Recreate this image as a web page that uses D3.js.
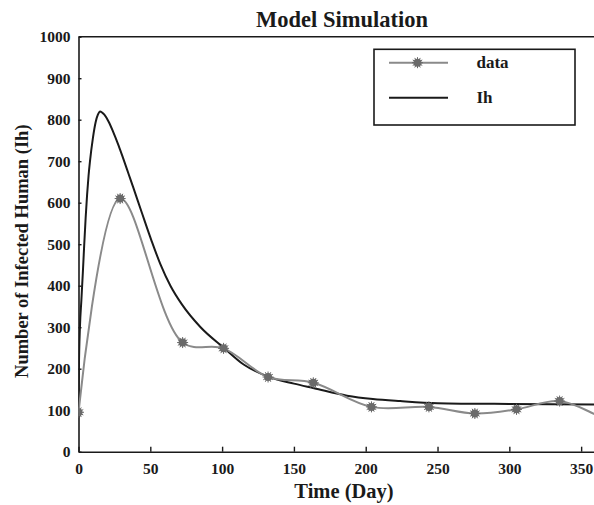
<!DOCTYPE html>
<html><head><meta charset="utf-8">
<script src="https://cdn.jsdelivr.net/npm/d3@7"></script>
<style>body{margin:0;background:#fff}svg{display:block}text{font-family:"Liberation Serif","Times New Roman",serif;font-weight:bold;fill:#1a1a1a}</style>
</head><body>
<script>
const dataTime = [0, 29, 72.5, 101, 132, 163.5, 204, 244, 276, 305, 335, 366];
const dataValue = [95, 610, 263, 249, 180, 166, 108, 108, 92, 102, 122, 78];
const ihTime = [0, 0.3, 1, 2, 3, 4, 5, 6, 7, 8, 10, 12, 13.5, 15, 18, 21, 24, 28, 31, 35, 38, 44, 51, 57, 64, 72, 85, 101, 115, 132, 150, 164, 187, 205, 224, 250, 300, 360];
const ihValue = [95, 200, 300, 365, 430, 500, 565, 620, 665, 700, 755, 795, 812, 820, 812, 795, 772, 737, 708, 668, 638, 577, 507, 452, 400, 355, 300, 251, 210, 181, 164, 153, 135, 127, 122, 117, 115, 114];
const xTicks = [0, 50, 100, 150, 200, 250, 300, 350];
const yTicks = [0, 100, 200, 300, 400, 500, 600, 700, 800, 900, 1000];
const legendLabels = ["data", "Ih"];

const W = 594, H = 505;
const L = 78.5, T = 36.7, B = 451.7, R = 595.5;
const svg = d3.select("body").append("svg").attr("width", W).attr("height", H);
const x = d3.scaleLinear().domain([0, 360]).range([L, R]);
const y = d3.scaleLinear().domain([0, 1000]).range([B, T]);

svg.append("defs").append("clipPath").attr("id", "clip")
  .append("rect").attr("x", L).attr("y", T).attr("width", R - L).attr("height", B - T);

// axes
const xa = svg.append("g").attr("transform", `translate(0,${B})`)
  .call(d3.axisBottom(x).tickValues(xTicks).tickFormat(d3.format("d")).tickSizeInner(-5).tickSizeOuter(0).tickPadding(11));
const ya = svg.append("g").attr("transform", `translate(${L},0)`)
  .call(d3.axisLeft(y).tickValues(yTicks).tickFormat(d3.format("d")).tickSizeInner(-3).tickSizeOuter(0).tickPadding(8));
[xa, ya].forEach(g => {
  g.select(".domain").attr("stroke", "#1a1a1a").attr("stroke-width", 1.6);
  g.selectAll(".tick line").attr("stroke", "#1a1a1a").attr("stroke-width", 1.4);
  g.selectAll("text").attr("font-size", 15.5).attr("font-family", "Liberation Serif").attr("font-weight", "bold").attr("fill", "#1a1a1a");
});
// top border
svg.append("line").attr("x1", L).attr("x2", W).attr("y1", T).attr("y2", T)
  .attr("stroke", "#1a1a1a").attr("stroke-width", 1.6);

const plot = svg.append("g").attr("clip-path", "url(#clip)");

const ihPts = ihTime.map((t, i) => [t, ihValue[i]]);
const dPts = dataTime.map((t, i) => [t, dataValue[i]]);

plot.append("path").datum(ihPts)
  .attr("d", d3.line().x(d => x(d[0])).y(d => y(d[1])).curve(d3.curveMonotoneX))
  .attr("fill", "none").attr("stroke", "#1a1a1a").attr("stroke-width", 2);

plot.append("path").datum(dPts)
  .attr("d", d3.line().x(d => x(d[0])).y(d => y(d[1])).curve(d3.curveCatmullRom.alpha(0.5)))
  .attr("fill", "none").attr("stroke", "#8a8a8a").attr("stroke-width", 2);

function marker(g, cx, cy) {
  const m = g.append("g").attr("transform", `translate(${cx},${cy})`);
  for (let k = 0; k < 12; k++) {
    const a = k * Math.PI / 6;
    m.append("line").attr("x1", 0).attr("y1", 0)
      .attr("x2", 5.5 * Math.cos(a)).attr("y2", 5.5 * Math.sin(a))
      .attr("stroke", "#666").attr("stroke-width", 1);
  }
  m.append("circle").attr("r", 4).attr("fill", "#6a6a6a");
}
dPts.forEach(d => marker(plot, x(d[0]), y(d[1])));

// titles
svg.append("text").attr("x", 342).attr("y", 27).attr("text-anchor", "middle")
  .attr("font-size", 22.5).text("Model Simulation");
svg.append("text").attr("x", 344).attr("y", 498).attr("text-anchor", "middle")
  .attr("font-size", 20.5).text("Time (Day)");
svg.append("text").attr("transform", `translate(28,${(T + B) / 2 + 7}) rotate(-90)`)
  .attr("text-anchor", "middle").attr("font-size", 18.5).text("Number of Infected Human (Ih)");

// legend
const lg = svg.append("g");
lg.append("rect").attr("x", 374).attr("y", 49.3).attr("width", 201).attr("height", 75.7)
  .attr("fill", "#fff").attr("stroke", "#1a1a1a").attr("stroke-width", 1.6);
lg.append("line").attr("x1", 389).attr("x2", 448).attr("y1", 62.7).attr("y2", 62.7)
  .attr("stroke", "#8a8a8a").attr("stroke-width", 2);
marker(lg, 417.5, 62.7);
lg.append("line").attr("x1", 389).attr("x2", 448).attr("y1", 97.7).attr("y2", 97.7)
  .attr("stroke", "#1a1a1a").attr("stroke-width", 2);
lg.append("text").attr("x", 476.5).attr("y", 68).attr("font-size", 17).text(legendLabels[0]);
lg.append("text").attr("x", 476.5).attr("y", 103).attr("font-size", 17).text(legendLabels[1]);
</script>
</body></html>
